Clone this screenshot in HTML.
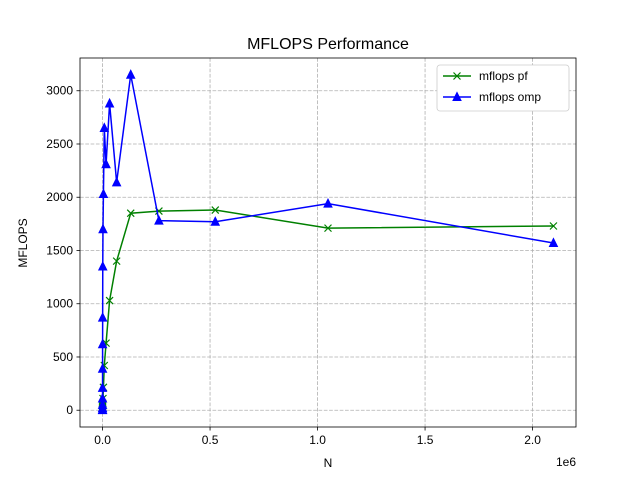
<!DOCTYPE html>
<html><head><meta charset="utf-8"><style>body{margin:0;background:#fff}svg{display:block;font-family:"Liberation Sans","DejaVu Sans",sans-serif}</style></head>
<body>
<svg id="chart" width="640" height="480"></svg>
<script>
const nValues=[2,4,8,16,32,64,128,256,512,1024,2048,4096,8192,16384,32768,65536,131072,262144,524288,1048576,2097152];
const pfValues=[1,2,4,8,15,25,35,45,55,65,110,215,420,630,1030,1400,1850,1870,1880,1710,1730];
const ompValues=[1,5,20,50,110,210,390,620,870,1350,1700,2030,2650,2310,2880,2140,3150,1780,1770,1940,1570];
const xTicks=[0,0.5e6,1e6,1.5e6,2e6];
const xTickLabels=["0.0","0.5","1.0","1.5","2.0"];
const yTicks=[0,500,1000,1500,2000,2500,3000];
const L=80,R=576,T=58,B=427;
const xMin=-104857,xMax=2202009,yMin=-157.5,yMax=3307.5;
function X(v){return L+(v-xMin)/(xMax-xMin)*(R-L);}
function Y(v){return B-(v-yMin)/(yMax-yMin)*(B-T);}
const svg=document.getElementById('chart');const NS='http://www.w3.org/2000/svg';
function el(t,a,p){const e=document.createElementNS(NS,t);for(const k in a)e.setAttribute(k,a[k]);(p||svg).appendChild(e);return e;}
let e;
e=el('text',{x:328,y:49,'text-anchor':'middle','font-size':16});e.textContent='MFLOPS Performance';


xTicks.forEach((v,i)=>{const x=X(v);
el('line',{x1:x,x2:x,y1:T,y2:B,stroke:'#b0b0b0','stroke-dasharray':'3.7,1.6','stroke-width':0.8});
el('line',{x1:x,x2:x,y1:B,y2:B+3.5,stroke:'#000','stroke-width':0.8});
const t=el('text',{x:x,y:B+17,'text-anchor':'middle','font-size':12});t.textContent=xTickLabels[i];

});
yTicks.forEach(v=>{const y=Y(v);
el('line',{x1:L,x2:R,y1:y,y2:y,stroke:'#b0b0b0','stroke-dasharray':'3.7,1.6','stroke-width':0.8});
el('line',{x1:L-3.5,x2:L,y1:y,y2:y,stroke:'#000','stroke-width':0.8});
const t=el('text',{x:L-7,y:y+4,'text-anchor':'end','font-size':12});t.textContent=v;

});
e=el('text',{x:576,y:466,'text-anchor':'end','font-size':12});e.textContent='1e6';


e=el('text',{x:328,y:467,'text-anchor':'middle','font-size':12});e.textContent='N';


e=el('text',{x:0,y:0,'text-anchor':'middle','font-size':12,transform:'translate(27,243) rotate(-90)'});e.textContent='MFLOPS';


function xm(x,y,c){const g=el('g',{stroke:c,'stroke-width':1.2});el('line',{x1:x-3.5,y1:y-3.5,x2:x+3.5,y2:y+3.5},g);el('line',{x1:x-3.5,y1:y+3.5,x2:x+3.5,y2:y-3.5},g);return g;}
function tri(x,y,c){return el('polygon',{points:`${x},${y-4.5} ${x-4},${y+3.5} ${x+4},${y+3.5}`,fill:c,stroke:c});}
e=el('polyline',{points:nValues.map((n,i)=>X(n)+','+Y(pfValues[i])).join(' '),fill:'none',stroke:'green','stroke-width':1.5});


nValues.forEach((n,i)=>{const m=xm(X(n),Y(pfValues[i]),'green');

});
e=el('polyline',{points:nValues.map((n,i)=>X(n)+','+Y(ompValues[i])).join(' '),fill:'none',stroke:'blue','stroke-width':1.5});


nValues.forEach((n,i)=>{const m=tri(X(n),Y(ompValues[i]),'blue');

});
e=el('rect',{x:L,y:T,width:R-L,height:B-T,fill:'none',stroke:'#000','stroke-width':0.8});


const lg=el('g',{});


el('rect',{x:437,y:65,width:132,height:46,rx:3,fill:'#fff',stroke:'#ccc','stroke-width':0.8},lg);
el('line',{x1:443,x2:471,y1:76,y2:76,stroke:'green','stroke-width':1.5},lg);xm(457,76,'green');
e=el('text',{x:479,y:80,'font-size':12},lg);e.textContent='mflops pf';


el('line',{x1:443,x2:471,y1:97,y2:97,stroke:'blue','stroke-width':1.5},lg);tri(457,97,'blue');
e=el('text',{x:479,y:101,'font-size':12},lg);e.textContent='mflops omp';


</script>
</body></html>
